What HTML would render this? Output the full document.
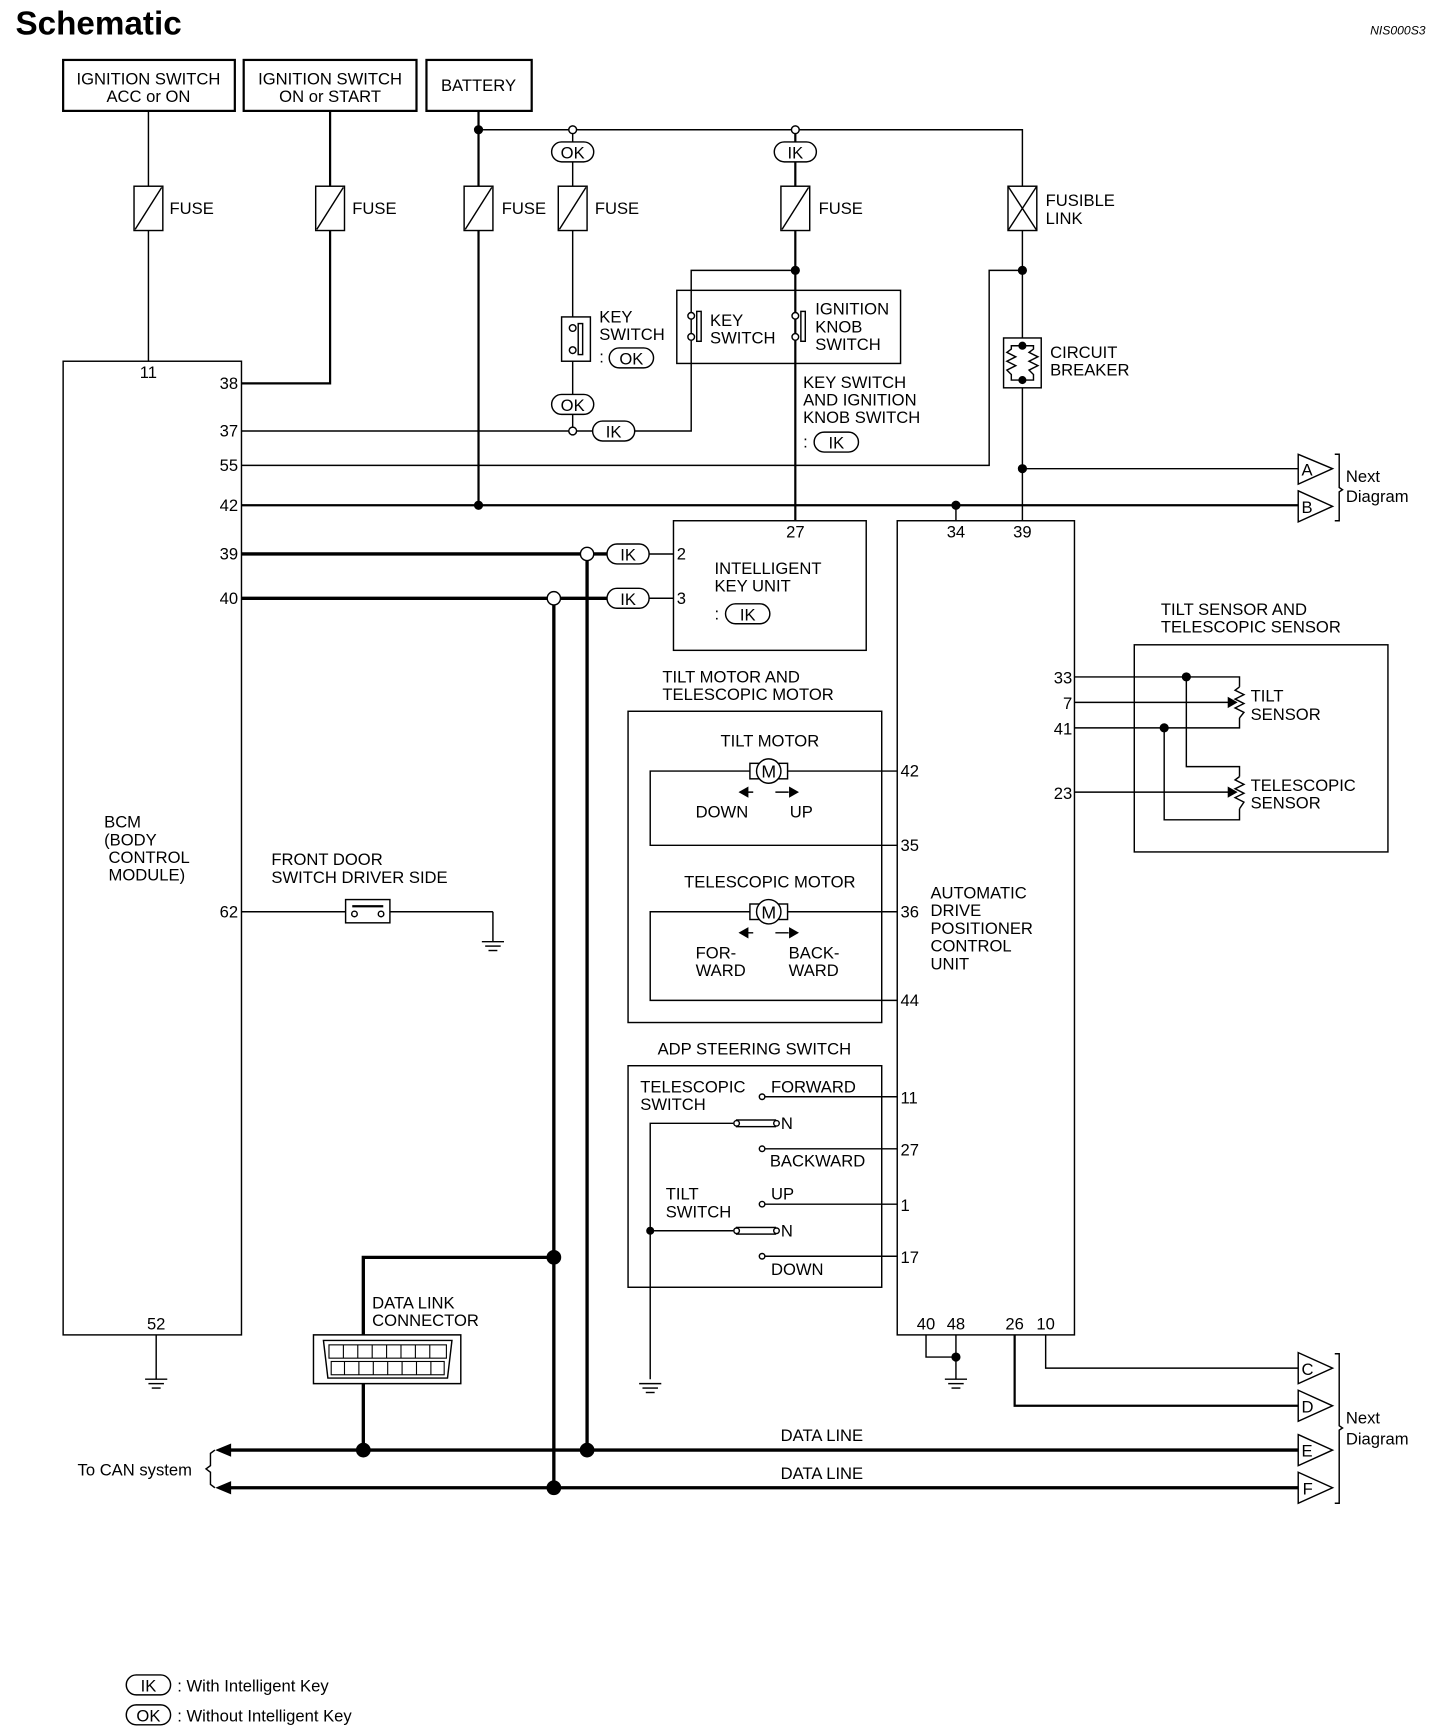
<!DOCTYPE html>
<html><head><meta charset="utf-8"><style>
html,body{margin:0;padding:0;background:#fff;}
svg{display:block;}
text{font-family:"Liberation Sans",sans-serif;font-size:15px;fill:#000;}
</style></head><body>
<svg width="1440" height="1736" viewBox="0 0 1300 1567" xmlns="http://www.w3.org/2000/svg">
<defs>
<g id="fuse"><rect x="-13" y="0" width="26" height="40" fill="#fff" stroke="#000" stroke-width="1.3"/><line x1="-12" y1="39" x2="12" y2="1" stroke="#000" stroke-width="1.3"/></g>
<g id="gnd"><line x1="-10" y1="0" x2="10" y2="0"/><line x1="-7" y1="4" x2="7" y2="4"/><line x1="-4" y1="8" x2="4" y2="8"/></g>
</defs>
<g fill="none" stroke="#000" stroke-width="1.3">
<text x="14" y="31" style="font-size:30px;font-weight:bold" stroke="none">Schematic</text>
<text x="1287" y="31" text-anchor="end" style="font-size:11px;font-style:italic" stroke="none">NIS000S3</text>

<rect x="57" y="54" width="155" height="46" stroke-width="2"/>
<rect x="220" y="54" width="156" height="46" stroke-width="2"/>
<rect x="385" y="54" width="95" height="46" stroke-width="2"/>
<g stroke="none" text-anchor="middle"><text x="134" y="76">IGNITION SWITCH</text><text x="134" y="92">ACC or ON</text>
<text x="298" y="76">IGNITION SWITCH</text><text x="298" y="92">ON or START</text><text x="432" y="82">BATTERY</text></g>

<line x1="134" y1="100" x2="134" y2="326"/>
<polyline points="298,100 298,346 218,346" stroke-width="2"/>
<line x1="432" y1="100" x2="432" y2="456" stroke-width="2"/>
<polyline points="432,117 923,117 923,470"/>
<line x1="517" y1="117" x2="517" y2="389"/>
<line x1="718" y1="117" x2="718" y2="470" stroke-width="2"/>
<use href="#fuse" x="134" y="168"/><use href="#fuse" x="298" y="168"/><use href="#fuse" x="432" y="168"/><use href="#fuse" x="517" y="168"/><use href="#fuse" x="718" y="168"/>
<g stroke="none"><text x="153" y="193">FUSE</text><text x="318" y="193">FUSE</text><text x="453" y="193">FUSE</text><text x="537" y="193">FUSE</text><text x="739" y="193">FUSE</text></g>
<rect x="910" y="168" width="26" height="40" fill="#fff"/><line x1="910" y1="168" x2="936" y2="208"/><line x1="936" y1="168" x2="910" y2="208"/>
<g stroke="none"><text x="944" y="186">FUSIBLE</text><text x="944" y="202">LINK</text></g>
<circle cx="432" cy="117" r="3.5" fill="#000"/>
<circle cx="517" cy="117" r="3.5" fill="#fff"/><circle cx="718" cy="117" r="3.5" fill="#fff"/>
<rect x="498" y="128" width="38" height="18" rx="9" fill="#fff"/><text x="517" y="143" text-anchor="middle" stroke="none">OK</text>
<rect x="699" y="128" width="38" height="18" rx="9" fill="#fff"/><text x="718" y="143" text-anchor="middle" stroke="none">IK</text>

<!-- key switch OK -->
<rect x="507" y="286" width="26" height="40" fill="#fff"/>
<circle cx="517" cy="296" r="3" fill="#fff"/><circle cx="517" cy="316" r="3" fill="#fff"/><rect x="522" y="292" width="4" height="28"/>
<g stroke="none"><text x="541" y="291">KEY</text><text x="541" y="307">SWITCH</text><text x="541" y="327">:</text></g>
<rect x="550" y="314" width="40" height="18" rx="9"/><text x="570" y="329" text-anchor="middle" stroke="none">OK</text>
<rect x="498" y="356" width="38" height="18" rx="9" fill="#fff"/><text x="517" y="371" text-anchor="middle" stroke="none">OK</text>
<line x1="218" y1="389" x2="535" y2="389"/>
<polyline points="572,389 624,389 624,244 718,244"/>
<circle cx="517" cy="389" r="3.5" fill="#fff"/>
<rect x="535" y="380" width="38" height="18" rx="9" fill="#fff"/><text x="554" y="395" text-anchor="middle" stroke="none">IK</text>
<circle cx="718" cy="244" r="3.5" fill="#000"/>
<rect x="611" y="262" width="202" height="66"/>
<circle cx="624" cy="285" r="3" fill="#fff"/><circle cx="624" cy="304" r="3" fill="#fff"/><rect x="629" y="281" width="4" height="27" fill="#fff"/>
<circle cx="718" cy="285" r="3" fill="#fff"/><circle cx="718" cy="304" r="3" fill="#fff"/><rect x="723" y="281" width="4" height="27" fill="#fff"/>
<g stroke="none"><text x="641" y="294">KEY</text><text x="641" y="310">SWITCH</text>
<text x="736" y="284">IGNITION</text><text x="736" y="300">KNOB</text><text x="736" y="316">SWITCH</text>
<text x="725" y="350">KEY SWITCH</text><text x="725" y="366">AND IGNITION</text><text x="725" y="382">KNOB SWITCH</text><text x="725" y="404">:</text></g>
<rect x="735" y="390" width="40" height="18" rx="9"/><text x="755" y="405" text-anchor="middle" stroke="none">IK</text>

<!-- fusible link side -->
<polyline points="923,244 893,244 893,420 218,420"/>
<circle cx="923" cy="244" r="3.5" fill="#000"/>
<rect x="906" y="305" width="34" height="45" fill="#fff"/>
<circle cx="923" cy="312" r="3" fill="#000"/><circle cx="923" cy="343" r="3" fill="#000"/>
<polyline points="923,312 913,312 913,315 909,318 917,322 909,326 917,330 909,334 913,338 913,343 923,343"/>
<polyline points="923,312 933,312 933,315 929,318 937,322 929,326 937,330 929,334 933,338 933,343 923,343"/>
<g stroke="none"><text x="948" y="323">CIRCUIT</text><text x="948" y="339">BREAKER</text></g>
<line x1="923" y1="423" x2="1172" y2="423"/>
<circle cx="923" cy="423" r="3.5" fill="#000"/>
<line x1="218" y1="456" x2="1172" y2="456" stroke-width="2"/>
<circle cx="432" cy="456" r="3.5" fill="#000"/><circle cx="863" cy="456" r="3.5" fill="#000"/>
<line x1="863" y1="456" x2="863" y2="470"/>

<!-- connectors -->
<g fill="#fff">
<polygon points="1172,410 1203,423 1172,437"/><polygon points="1172,443 1203,457 1172,471"/>
<polygon points="1172,1221 1203,1235 1172,1249"/><polygon points="1172,1255 1203,1269 1172,1283"/>
<polygon points="1172,1295 1203,1309 1172,1323"/><polygon points="1172,1329 1203,1343 1172,1357"/></g>
<g stroke="none"><text x="1175" y="429">A</text><text x="1175" y="463">B</text><text x="1175" y="1241">C</text><text x="1175" y="1275">D</text><text x="1175" y="1315">E</text><text x="1176" y="1349">F</text>
<text x="1215" y="435">Next</text><text x="1215" y="453">Diagram</text><text x="1215" y="1285">Next</text><text x="1215" y="1304">Diagram</text></g>
<polyline points="1205,410 1209,410 1209,440 1212,442 1209,444 1209,470 1205,470"/>
<polyline points="1205,1222 1209,1222 1209,1287 1212,1289 1209,1291 1209,1357 1205,1357"/>

<!-- BCM -->
<rect x="57" y="326" width="161" height="879"/>
<g stroke="none"><text x="134" y="341" text-anchor="middle">11</text>
<g text-anchor="end"><text x="215" y="351">38</text><text x="215" y="394">37</text><text x="215" y="425">55</text><text x="215" y="461">42</text><text x="215" y="505">39</text><text x="215" y="545">40</text><text x="215" y="828">62</text></g>
<text x="141" y="1200" text-anchor="middle">52</text>
<text x="94" y="747">BCM</text><text x="94" y="763">(BODY</text><text x="98" y="779">CONTROL</text><text x="98" y="795">MODULE)</text></g>
<line x1="141" y1="1205" x2="141" y2="1245"/><use href="#gnd" x="141" y="1245"/>

<!-- 39 / 40 -->
<line x1="218" y1="500" x2="548" y2="500" stroke-width="3"/><line x1="586" y1="500" x2="608" y2="500"/>
<line x1="218" y1="540" x2="548" y2="540" stroke-width="3"/><line x1="586" y1="540" x2="608" y2="540"/>
<line x1="530" y1="500" x2="530" y2="1309" stroke-width="3"/>
<line x1="500" y1="540" x2="500" y2="1343" stroke-width="3"/>
<circle cx="530" cy="500" r="6" fill="#fff"/><circle cx="500" cy="540" r="6" fill="#fff"/>
<rect x="548" y="491" width="38" height="18" rx="9" fill="#fff"/><text x="567" y="506" text-anchor="middle" stroke="none">IK</text>
<rect x="548" y="531" width="38" height="18" rx="9" fill="#fff"/><text x="567" y="546" text-anchor="middle" stroke="none">IK</text>

<!-- IK unit -->
<rect x="608" y="470" width="174" height="117"/>
<g stroke="none"><text x="611" y="505">2</text><text x="611" y="545">3</text><text x="718" y="485" text-anchor="middle">27</text>
<text x="645" y="518">INTELLIGENT</text><text x="645" y="534">KEY UNIT</text><text x="645" y="559">:</text></g>
<rect x="655" y="545" width="40" height="18" rx="9"/><text x="675" y="560" text-anchor="middle" stroke="none">IK</text>

<!-- DLC -->
<polyline points="500,1135 328,1135 328,1205" stroke-width="3"/>
<line x1="328" y1="1249" x2="328" y2="1309" stroke-width="3"/>
<circle cx="500" cy="1135" r="6" fill="#000"/>
<polygon points="283,1205 416,1205 416,1249 283,1249" fill="#fff"/>
<polygon points="292,1210 408,1210 404,1244 296,1244"/>
<g stroke-width="1"><rect x="297" y="1214" width="106" height="12"/><rect x="299" y="1229" width="102" height="12"/>
<path d="M310 1214v12M323 1214v12M336 1214v12M349 1214v12M362 1214v12M375 1214v12M388 1214v12M311 1229v12M324 1229v12M337 1229v12M350 1229v12M363 1229v12M376 1229v12M389 1229v12"/></g>
<g stroke="none"><text x="336" y="1181">DATA LINK</text><text x="336" y="1197">CONNECTOR</text></g>

<!-- data lines -->
<line x1="200" y1="1309" x2="1172" y2="1309" stroke-width="3"/>
<line x1="200" y1="1343" x2="1172" y2="1343" stroke-width="3"/>
<polygon points="196,1309 208,1304 208,1314" fill="#000"/><polygon points="196,1343 208,1338 208,1348" fill="#000"/>
<circle cx="328" cy="1309" r="6" fill="#000"/><circle cx="530" cy="1309" r="6" fill="#000"/><circle cx="500" cy="1343" r="6" fill="#000"/>
<g stroke="none"><text x="742" y="1301" text-anchor="middle">DATA LINE</text><text x="742" y="1335" text-anchor="middle">DATA LINE</text><text x="70" y="1332">To CAN system</text></g>
<polyline points="194,1309 190,1312 190,1323 186,1326 190,1329 190,1340 194,1343"/>

<!-- front door switch -->
<line x1="218" y1="823" x2="445" y2="823"/>
<rect x="312" y="812" width="40" height="21" fill="#fff"/>
<circle cx="320" cy="825" r="2.5" fill="#fff"/><circle cx="344" cy="825" r="2.5" fill="#fff"/><line x1="318" y1="818" x2="346" y2="818" stroke-width="2"/>
<line x1="445" y1="823" x2="445" y2="850"/><use href="#gnd" x="445" y="850"/>
<g stroke="none"><text x="245" y="781">FRONT DOOR</text><text x="245" y="797">SWITCH DRIVER SIDE</text></g>

<!-- ADP control unit -->
<rect x="810" y="470" width="160" height="735"/>
<g stroke="none"><text x="863" y="485" text-anchor="middle">34</text><text x="923" y="485" text-anchor="middle">39</text>
<text x="840" y="811">AUTOMATIC</text><text x="840" y="827">DRIVE</text><text x="840" y="843">POSITIONER</text><text x="840" y="859">CONTROL</text><text x="840" y="875">UNIT</text>
<text x="836" y="1200" text-anchor="middle">40</text><text x="863" y="1200" text-anchor="middle">48</text><text x="916" y="1200" text-anchor="middle">26</text><text x="944" y="1200" text-anchor="middle">10</text>
<text x="813" y="701">42</text><text x="813" y="768">35</text><text x="813" y="828">36</text><text x="813" y="908">44</text>
<text x="813" y="996">11</text><text x="813" y="1043">27</text><text x="813" y="1093">1</text><text x="813" y="1140">17</text>
<g text-anchor="end"><text x="968" y="617">33</text><text x="968" y="640">7</text><text x="968" y="663">41</text><text x="968" y="721">23</text></g></g>
<polyline points="836,1205 836,1225 863,1225"/><line x1="863" y1="1205" x2="863" y2="1245"/><circle cx="863" cy="1225" r="3.5" fill="#000"/><use href="#gnd" x="863" y="1245"/>
<polyline points="916,1205 916,1269 1172,1269" stroke-width="2"/>
<polyline points="944,1205 944,1235 1172,1235"/>

<!-- motors -->
<rect x="567" y="642" width="229" height="281"/>
<g stroke="none"><text x="598" y="616">TILT MOTOR AND</text><text x="598" y="632">TELESCOPIC MOTOR</text>
<text x="695" y="674" text-anchor="middle">TILT MOTOR</text><text x="695" y="801" text-anchor="middle">TELESCOPIC MOTOR</text>
<text x="628" y="738">DOWN</text><text x="713" y="738">UP</text>
<text x="628" y="865">FOR-</text><text x="628" y="881">WARD</text><text x="712" y="865">BACK-</text><text x="712" y="881">WARD</text></g>
<polyline points="810,696 587,696 587,763 810,763"/>
<polyline points="810,823 587,823 587,903 810,903"/>
<g fill="#fff"><rect x="677" y="689" width="34" height="14"/><circle cx="694" cy="696" r="11"/><rect x="677" y="816" width="34" height="14"/><circle cx="694" cy="823" r="11"/></g>
<text x="694" y="702" text-anchor="middle" stroke="none" style="font-size:16px">M</text><text x="694" y="829" text-anchor="middle" stroke="none" style="font-size:16px">M</text>
<g fill="#000"><path d="M668 715h12M712 715h-12" /><polygon points="668,715 675,711 675,719"/><polygon points="720,715 713,711 713,719"/>
<path d="M668 842h12M712 842h-12"/><polygon points="668,842 675,838 675,846"/><polygon points="720,842 713,838 713,846"/></g>

<!-- ADP steering switch -->
<rect x="567" y="962" width="229" height="200"/>
<g stroke="none"><text x="681" y="952" text-anchor="middle">ADP STEERING SWITCH</text>
<text x="578" y="986">TELESCOPIC</text><text x="578" y="1002">SWITCH</text><text x="696" y="986">FORWARD</text>
<text x="695" y="1053">BACKWARD</text><text x="601" y="1083">TILT</text><text x="601" y="1099">SWITCH</text><text x="696" y="1083">UP</text><text x="696" y="1151">DOWN</text>
<text x="705" y="1019">N</text><text x="705" y="1116">N</text></g>
<line x1="691" y1="990" x2="810" y2="990"/><line x1="691" y1="1037" x2="810" y2="1037"/><line x1="691" y1="1087" x2="810" y2="1087"/><line x1="691" y1="1134" x2="810" y2="1134"/>
<circle cx="688" cy="990" r="2.5" fill="#fff"/><circle cx="688" cy="1037" r="2.5" fill="#fff"/><circle cx="688" cy="1087" r="2.5" fill="#fff"/><circle cx="688" cy="1134" r="2.5" fill="#fff"/>
<polyline points="662,1014 587,1014 587,1245"/><line x1="587" y1="1111" x2="662" y2="1111"/>
<circle cx="587" cy="1111" r="3" fill="#000"/><use href="#gnd" x="587" y="1249"/>
<rect x="665" y="1011" width="35" height="6" fill="#fff"/><rect x="665" y="1108" width="35" height="6" fill="#fff"/>
<circle cx="665" cy="1014" r="2.5" fill="#fff"/><circle cx="701" cy="1014" r="2.5" fill="#fff"/><circle cx="665" cy="1111" r="2.5" fill="#fff"/><circle cx="701" cy="1111" r="2.5" fill="#fff"/>

<!-- sensors -->
<rect x="1024" y="582" width="229" height="187"/>
<g stroke="none"><text x="1048" y="555">TILT SENSOR AND</text><text x="1048" y="571">TELESCOPIC SENSOR</text>
<text x="1129" y="633">TILT</text><text x="1129" y="650">SENSOR</text><text x="1129" y="714">TELESCOPIC</text><text x="1129" y="730">SENSOR</text></g>
<polyline points="970,611 1119,611 1119,620"/><polyline points="970,657 1119,657 1119,648"/>
<polyline points="1119,620 1115,623 1123,627 1115,631 1123,635 1115,639 1123,643 1119,648"/>
<line x1="970" y1="634" x2="1112" y2="634"/><polygon points="1116,634 1109,630 1109,638" fill="#000"/>
<polyline points="1071,611 1071,692 1119,692 1119,701"/><polyline points="1051,657 1051,740 1119,740 1119,730"/>
<polyline points="1119,701 1115,704 1123,708 1115,712 1123,716 1115,720 1123,724 1119,730"/>
<line x1="970" y1="715" x2="1112" y2="715"/><polygon points="1116,715 1109,711 1109,719" fill="#000"/>
<circle cx="1071" cy="611" r="3.5" fill="#000"/><circle cx="1051" cy="657" r="3.5" fill="#000"/>

<!-- legend -->
<rect x="114" y="1512" width="40" height="18" rx="9"/><text x="134" y="1527" text-anchor="middle" stroke="none">IK</text>
<text x="160" y="1527" stroke="none">: With Intelligent Key</text>
<rect x="114" y="1539" width="40" height="18" rx="9"/><text x="134" y="1554" text-anchor="middle" stroke="none">OK</text>
<text x="160" y="1554" stroke="none">: Without Intelligent Key</text>
</g>
</svg>
</body></html>
